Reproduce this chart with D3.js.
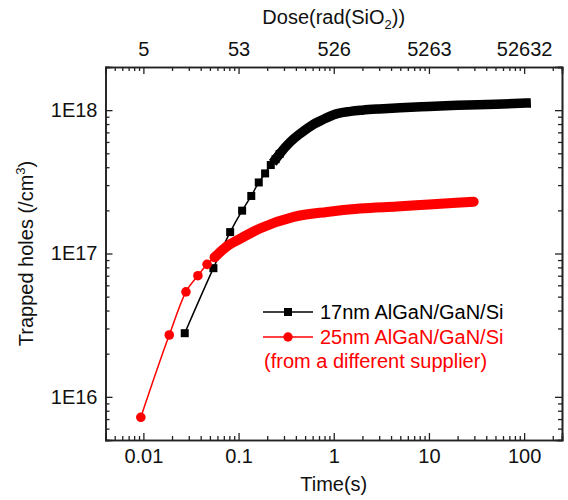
<!DOCTYPE html>
<html>
<head>
<meta charset="utf-8">
<script src="https://cdn.jsdelivr.net/npm/d3@7"></script>
<style>
  body { margin: 0; background: #fff; }
  svg text { font-family: "Liberation Sans", Arial, sans-serif; }
</style>
</head>
<body>
<div id="chart"></div>
<script>
// 17nm AlGaN/GaN/Si (black squares)
const time17 = [0.0272, 0.0544, 0.0816, 0.109, 0.136, 0.163, 0.19, 0.218, 0.245,
    0.27, 0.35, 0.45, 0.6, 0.8, 1.0, 1.5, 2, 3, 5, 10, 20, 50, 105];
const trapped17 = [2.78e16, 7.9e16, 1.41e17, 1.99e17, 2.52e17, 3.13e17, 3.62e17, 4.14e17, 4.55e17,
    4.95e17, 6.0e17, 6.9e17, 7.9e17, 8.7e17, 9.3e17, 9.8e17, 1.0e18, 1.02e18, 1.04e18,
    1.06e18, 1.08e18, 1.10e18, 1.12e18];

// 25nm AlGaN/GaN/Si (red circles)
const time25 = [0.0094, 0.0187, 0.028, 0.0374, 0.0467, 0.056,
    0.075, 0.1, 0.17, 0.38, 0.85, 1.9, 4.6, 10, 29.5];
const trapped25 = [7.2e15, 2.7e16, 5.4e16, 7.0e16, 8.4e16, 9.4e16,
    1.12e17, 1.25e17, 1.5e17, 1.8e17, 1.95e17, 2.06e17, 2.13e17, 2.2e17, 2.3e17];

// from this index on the markers overlap into a solid band
const denseStart17 = 8;
const denseStart25 = 5;

const timeTicks = [0.01, 0.1, 1, 10, 100];
const trappedTicks = [1e16, 1e17, 1e18];
const doseRate = 526.32; // rad(SiO2) per second
const doseTicks = [5.2632, 52.632, 526.32, 5263.2, 52632];

const legendLabels = ["17nm AlGaN/GaN/Si", "25nm AlGaN/GaN/Si", "(from a different supplier)"];

const W = 568, H = 500;
const margin = { top: 67, right: 6, bottom: 60, left: 105.5 };
const FONT = 20;

const svg = d3.select("#chart").append("svg")
    .attr("width", W).attr("height", H);

const x = d3.scaleLog().domain([0.004, 250]).range([margin.left, W - margin.right]);
const y = d3.scaleLog().domain([5e15, 2e18]).range([H - margin.bottom, margin.top]);
const xDose = d3.scaleLog()
    .domain(x.domain().map(d => d * doseRate))
    .range(x.range());

// minor ticks 2..9 within each decade
function minorTicks(scale, bases) {
    const [lo, hi] = scale.domain();
    const out = [];
    const all = [bases[0] / 10].concat(bases);
    all.forEach(b => {
        for (let m = 2; m <= 9; m++) {
            const v = b * m;
            if (v >= lo && v <= hi) out.push(v);
        }
    });
    return out;
}

const axisColor = "#222";
function styleAxis(g) {
    g.select(".domain").attr("stroke", axisColor).attr("stroke-width", 1.6);
    g.selectAll(".tick line").attr("stroke", axisColor).attr("stroke-width", 1.3);
    g.selectAll(".tick text").attr("fill", "#111").attr("font-size", FONT)
        .attr("font-family", "Liberation Sans, Arial, sans-serif");
}

const x0 = x.range()[0], x1 = x.range()[1];
const y0 = y.range()[0], y1 = y.range()[1];

// bottom
svg.append("g").attr("transform", `translate(0,${y0})`)
    .call(d3.axisBottom(x).tickValues(minorTicks(x, timeTicks)).tickSize(-4).tickFormat(""))
    .call(styleAxis);
svg.append("g").attr("transform", `translate(0,${y0})`)
    .call(d3.axisBottom(x).tickValues(timeTicks).tickSize(-7).tickPadding(9)
        .tickFormat(d => d >= 1 ? d3.format("d")(d) : String(d)))
    .call(styleAxis);

// top (dose)
svg.append("g").attr("transform", `translate(0,${y1})`)
    .call(d3.axisTop(xDose).tickValues(minorTicks(xDose, doseTicks)).tickSize(-4).tickFormat(""))
    .call(styleAxis);
svg.append("g").attr("transform", `translate(0,${y1})`)
    .call(d3.axisTop(xDose).tickValues(doseTicks).tickSize(-7).tickPadding(11)
        .tickFormat(d3.format(".0f")))
    .call(styleAxis);

// left
svg.append("g").attr("transform", `translate(${x0},0)`)
    .call(d3.axisLeft(y).tickValues(minorTicks(y, trappedTicks)).tickSize(-4).tickFormat(""))
    .call(styleAxis);
svg.append("g").attr("transform", `translate(${x0},0)`)
    .call(d3.axisLeft(y).tickValues(trappedTicks).tickSize(-7).tickPadding(8)
        .tickFormat(d => "1E" + Math.round(Math.log10(d))))
    .call(styleAxis);

// right
svg.append("g").attr("transform", `translate(${x1},0)`)
    .call(d3.axisRight(y).tickValues(minorTicks(y, trappedTicks)).tickSize(-4).tickFormat(""))
    .call(styleAxis);
svg.append("g").attr("transform", `translate(${x1},0)`)
    .call(d3.axisRight(y).tickValues(trappedTicks).tickSize(-7).tickFormat(""))
    .call(styleAxis);

// titles
svg.append("text")
    .attr("x", (x0 + x1) / 2).attr("y", 491)
    .attr("text-anchor", "middle").attr("font-size", FONT).attr("fill", "#111")
    .text("Time(s)");

const doseTitle = svg.append("text")
    .attr("x", (x0 + x1) / 2).attr("y", 24)
    .attr("text-anchor", "middle").attr("font-size", FONT).attr("fill", "#111");
doseTitle.append("tspan").text("Dose(rad(SiO");
doseTitle.append("tspan").attr("font-size", 13).attr("dy", 5).text("2");
doseTitle.append("tspan").attr("dy", -5).text("))");

const yTitle = svg.append("text")
    .attr("transform", `translate(33,${(y0 + y1) / 2}) rotate(-90)`)
    .attr("text-anchor", "middle").attr("font-size", FONT).attr("fill", "#111");
yTitle.append("tspan").text("Trapped holes (/cm");
yTitle.append("tspan").attr("font-size", 13).attr("dy", -8).text("3");
yTitle.append("tspan").attr("dy", 8).text(")");

// series
const series = [
    { time: time17, value: trapped17, dense: denseStart17, color: "#000", shape: "square", band: 9.5 },
    { time: time25, value: trapped25, dense: denseStart25, color: "#ff0000", shape: "circle", band: 10 },
];

const line = d3.line()
    .x(d => x(d[0]))
    .y(d => y(d[1]))
    .curve(d3.curveMonotoneX);

const plot = svg.append("g");

series.forEach(s => {
    const pts = s.time.map((t, i) => [t, s.value[i]]);
    const g = plot.append("g");

    g.append("path")
        .attr("d", line(pts))
        .attr("fill", "none")
        .attr("stroke", s.color)
        .attr("stroke-width", 1.5);

    g.append("path")
        .attr("d", line(pts.slice(s.dense)))
        .attr("fill", "none")
        .attr("stroke", s.color)
        .attr("stroke-width", s.band)
        .attr("stroke-linecap", s.shape === "square" ? "square" : "round");

    const sparse = pts.slice(0, s.dense + 2);
    if (s.shape === "square") {
        g.selectAll("rect").data(sparse).join("rect")
            .attr("x", d => x(d[0]) - 4).attr("y", d => y(d[1]) - 4)
            .attr("width", 8).attr("height", 8)
            .attr("fill", s.color);
    } else {
        g.selectAll("circle").data(sparse).join("circle")
            .attr("cx", d => x(d[0])).attr("cy", d => y(d[1]))
            .attr("r", 4.8)
            .attr("fill", s.color);
    }
});

// legend
const legend = svg.append("g");
const legendRows = [
    { label: legendLabels[0], color: "#000", shape: "square", y: 312 },
    { label: legendLabels[1], color: "#ff0000", shape: "circle", y: 337 },
];
legendRows.forEach(r => {
    legend.append("line")
        .attr("x1", 263).attr("x2", 313).attr("y1", r.y).attr("y2", r.y)
        .attr("stroke", r.color).attr("stroke-width", 1.5);
    if (r.shape === "square") {
        legend.append("rect").attr("x", 284).attr("y", r.y - 4)
            .attr("width", 8).attr("height", 8).attr("fill", r.color);
    } else {
        legend.append("circle").attr("cx", 288).attr("cy", r.y).attr("r", 4.7)
            .attr("fill", r.color);
    }
    legend.append("text")
        .attr("x", 320).attr("y", r.y + 6.5)
        .attr("font-size", FONT).attr("fill", r.color)
        .text(r.label);
});
legend.append("text")
    .attr("x", 264).attr("y", 368)
    .attr("font-size", FONT).attr("fill", "#ff0000")
    .text(legendLabels[2]);
</script>
</body>
</html>
